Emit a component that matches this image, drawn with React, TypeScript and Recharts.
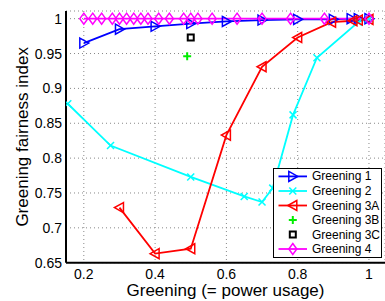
import React from 'react';
import { LineChart, Line, XAxis, YAxis, CartesianGrid } from 'recharts';

const FONT = '"Liberation Sans", Arial, Helvetica, sans-serif';

const xTicks = [0.2, 0.4, 0.6, 0.8, 1];
const yTicks = [0.65, 0.7, 0.75, 0.8, 0.85, 0.9, 0.95, 1];

const g1X = [0.2, 0.3, 0.4, 0.5, 0.6, 0.7, 0.8, 0.9, 0.95, 0.97, 1.0];
const g1Y = [0.965, 0.985, 0.989, 0.993, 0.996, 0.998, 0.999, 0.999, 1, 1, 1];

const g2X = [0.155, 0.275, 0.5, 0.65, 0.7, 0.73, 0.787, 0.854, 0.97, 1.0];
const g2Y = [0.878, 0.818, 0.773, 0.745, 0.737, 0.757, 0.862, 0.944, 0.995, 1.0];

const g3aX = [0.3, 0.4, 0.5, 0.6, 0.7, 0.8, 0.895, 0.955, 0.97, 1.0];
const g3aY = [0.729, 0.663, 0.67, 0.833, 0.931, 0.973, 0.995, 0.997, 0.998, 0.999];

const g3bX = [0.49];
const g3bY = [0.946];

const g3cX = [0.5];
const g3cY = [0.973];

const g4X = [0.2, 0.225, 0.25, 0.28, 0.3, 0.32, 0.34, 0.36, 0.38, 0.41, 0.44, 0.48, 0.5, 0.52, 0.56, 0.63, 0.7, 0.78, 0.875, 1.0];
const g4Y = g4X.map(() => 1);

const legendNames = ['Greening 1', 'Greening 2', 'Greening 3A', 'Greening 3B', 'Greening 3C', 'Greening 4'];

const zip = (xs: number[], ys: number[]) => xs.map((x, i) => ({ x, y: ys[i] }));

const d1 = zip(g1X, g1Y);
const d2 = zip(g2X, g2Y);
const d3a = zip(g3aX, g3aY);
const d3b = zip(g3bX, g3bY);
const d3c = zip(g3cX, g3cY);
const d4 = zip(g4X, g4Y);

const BLUE = '#0000ff';
const CYAN = '#00ffff';
const RED = '#ff0000';
const GREEN = '#00ee00';
const BLACK = '#000000';
const MAGENTA = '#ff00ff';

type MP = { cx: number; cy: number };

const RightTri = ({ cx, cy }: MP) => (
  <polygon points={`${cx - 4},${cy - 5} ${cx + 5},${cy} ${cx - 4},${cy + 5}`} fill="none" stroke={BLUE} strokeWidth={1.5} />
);
const LeftTri = ({ cx, cy }: MP) => (
  <polygon points={`${cx + 4},${cy - 5} ${cx - 5},${cy} ${cx + 4},${cy + 5}`} fill="none" stroke={RED} strokeWidth={1.5} />
);
const XMark = ({ cx, cy }: MP) => (
  <g stroke={CYAN} strokeWidth={1.5}>
    <line x1={cx - 3.5} y1={cy - 3.5} x2={cx + 3.5} y2={cy + 3.5} />
    <line x1={cx - 3.5} y1={cy + 3.5} x2={cx + 3.5} y2={cy - 3.5} />
  </g>
);
const PlusMark = ({ cx, cy }: MP) => (
  <g stroke={GREEN} strokeWidth={2}>
    <line x1={cx - 4} y1={cy} x2={cx + 4} y2={cy} />
    <line x1={cx} y1={cy - 4} x2={cx} y2={cy + 4} />
  </g>
);
const SquareMark = ({ cx, cy }: MP) => (
  <rect x={cx - 3} y={cy - 3} width={6} height={6} fill="#fff" stroke={BLACK} strokeWidth={2} />
);
const DiamondMark = ({ cx, cy }: MP) => (
  <polygon points={`${cx},${cy - 5.5} ${cx + 4},${cy} ${cx},${cy + 5.5} ${cx - 4},${cy}`} fill="none" stroke={MAGENTA} strokeWidth={1.5} />
);

const markers = [RightTri, XMark, LeftTri, PlusMark, SquareMark, DiamondMark];
const colors = [BLUE, CYAN, RED, GREEN, BLACK, MAGENTA];
const hasLine = [true, true, true, false, false, true];

const makeDot = (M: (p: MP) => React.ReactElement, id: string) => (p: any) => {
  if (p.cx == null || p.cy == null) return <g key={`${id}-${p.index}`} />;
  return <g key={`${id}-${p.index}`}><M cx={p.cx} cy={p.cy} /></g>;
};

const YLabel = (props: any) => {
  const vb = props.viewBox || { x: 0, y: 3, width: 58, height: 252 };
  const cx = 20.5;
  const cy = vb.y + vb.height / 2;
  return (
    <text x={cx} y={cy} transform={`rotate(-90 ${cx} ${cy})`} textAnchor="middle" fontSize={17} fontFamily={FONT} fill="#000">
      Greening fairness index
    </text>
  );
};

const XLabel = () => (
  <text x={217.5} y={287.5} textAnchor="middle" fontSize={17} fontFamily={FONT} fill="#000">
    Greening (= power usage)
  </text>
);

const LegendBox = () => {
  const rows = [8.4, 23, 37.5, 52, 66.5, 81];
  return (
    <svg width={109} height={90} style={{ display: 'block' }}>
      <rect x={0.5} y={0.5} width={108} height={89} fill="#fff" stroke="#000" strokeWidth={1} />
      {legendNames.map((name, i) => {
        const M = markers[i];
        const cy = rows[i];
        return (
          <g key={name}>
            {hasLine[i] && <line x1={5.5} y1={cy} x2={34} y2={cy} stroke={colors[i]} strokeWidth={1.8} />}
            <M cx={19.8} cy={cy} />
            <text x={39} y={cy} dominantBaseline="central" fontSize={12} fontFamily={FONT} fill="#000">
              {name}
            </text>
          </g>
        );
      })}
    </svg>
  );
};

export default function App() {
  const W = 377;
  const H = 293;
  const xDomain: [number, number] = [0.15, 1.045];
  const yDomain: [number, number] = [0.65, 1.011];
  return (
    <div style={{ position: 'relative', width: 385, height: 301, overflow: 'hidden', background: '#fff' }}>
      <style>{'html,body{margin:0;padding:0;overflow:hidden;}'}</style>
      <div style={{ position: 'absolute', left: 8, top: 8 }}>
        <LineChart width={W} height={H} margin={{ top: 3, right: 0, bottom: 0, left: 0 }}>
          <CartesianGrid stroke="#888" strokeDasharray="1 3" />
          <XAxis
            xAxisId="bt"
            orientation="bottom"
            type="number"
            domain={xDomain}
            ticks={xTicks}
            allowDataOverflow
            height={0}
            mirror
            tick={false}
            tickSize={3}
            tickLine={{ stroke: '#000', strokeWidth: 1 }}
            axisLine={false}
          />
          <XAxis
            dataKey="x"
            type="number"
            domain={xDomain}
            ticks={xTicks}
            allowDataOverflow
            height={38.3}
            tickSize={0}
            tickMargin={6}
            tickLine={false}
            tick={{ fontSize: 14, fill: '#000', fontFamily: FONT }}
            axisLine={{ stroke: '#000', strokeWidth: 2 }}
            label={<XLabel />}
          />
          <XAxis
            xAxisId="top"
            orientation="top"
            type="number"
            domain={xDomain}
            ticks={xTicks}
            allowDataOverflow
            height={0}
            mirror
            tick={false}
            tickSize={3}
            tickLine={{ stroke: '#000', strokeWidth: 1 }}
            axisLine={{ stroke: '#000', strokeWidth: 1.5 }}
          />
          <YAxis
            yAxisId="lt"
            orientation="left"
            type="number"
            domain={yDomain}
            ticks={yTicks}
            allowDataOverflow
            width={0}
            mirror
            tick={false}
            tickSize={3}
            tickLine={{ stroke: '#000', strokeWidth: 1 }}
            axisLine={false}
          />
          <YAxis
            type="number"
            domain={yDomain}
            ticks={yTicks}
            allowDataOverflow
            width={58}
            tickSize={0}
            tickMargin={4}
            tickLine={false}
            tick={{ fontSize: 14, fill: '#000', fontFamily: FONT }}
            axisLine={{ stroke: '#000', strokeWidth: 2 }}
            label={<YLabel />}
          />
          <YAxis
            yAxisId="rt"
            orientation="right"
            type="number"
            domain={yDomain}
            ticks={yTicks}
            allowDataOverflow
            width={0}
            mirror
            tick={false}
            tickSize={3}
            tickLine={{ stroke: '#000', strokeWidth: 1 }}
            axisLine={false}
          />
          <Line data={d1} dataKey="y" type="linear" stroke={BLUE} strokeWidth={1.8} dot={makeDot(RightTri, 'g1')} activeDot={false} isAnimationActive={false} />
          <Line data={d2} dataKey="y" type="linear" stroke={CYAN} strokeWidth={1.8} dot={makeDot(XMark, 'g2')} activeDot={false} isAnimationActive={false} />
          <Line data={d3a} dataKey="y" type="linear" stroke={RED} strokeWidth={1.8} dot={makeDot(LeftTri, 'g3a')} activeDot={false} isAnimationActive={false} />
          <Line data={d3b} dataKey="y" type="linear" stroke="none" dot={makeDot(PlusMark, 'g3b')} activeDot={false} isAnimationActive={false} />
          <Line data={d3c} dataKey="y" type="linear" stroke="none" dot={makeDot(SquareMark, 'g3c')} activeDot={false} isAnimationActive={false} />
          <Line data={d4} dataKey="y" type="linear" stroke={MAGENTA} strokeWidth={1.8} dot={makeDot(DiamondMark, 'g4')} activeDot={false} isAnimationActive={false} />
        </LineChart>
      </div>
      <div style={{ position: 'absolute', left: 272.7, top: 168.3 }}>
        <LegendBox />
      </div>
    </div>
  );
}
